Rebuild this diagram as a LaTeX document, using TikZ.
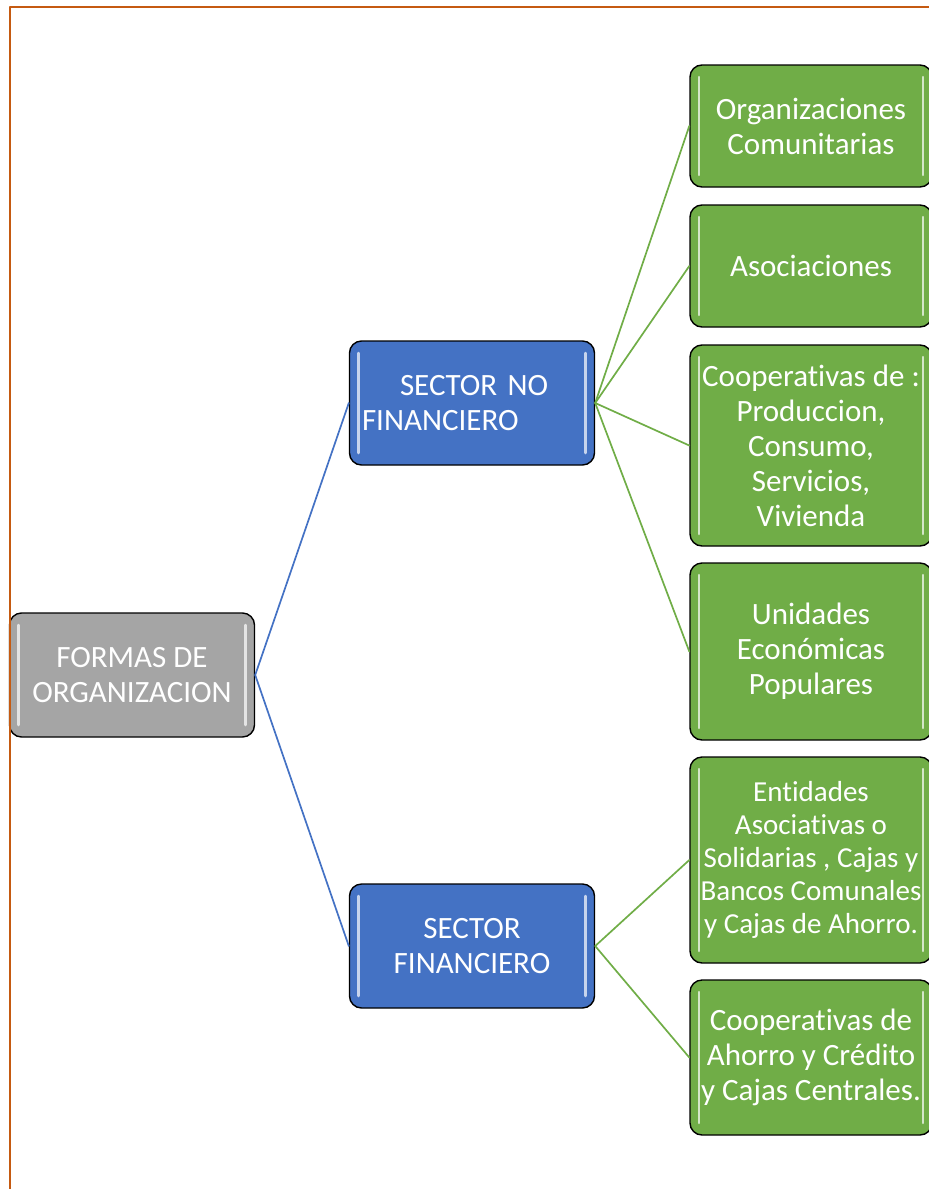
\documentclass[tikz,border=0pt]{standalone}
\usepackage{fontspec}
\setmainfont{Carlito}[Ligatures=NoCommon]
\definecolor{grisbox}{HTML}{A5A5A5}
\definecolor{azulbox}{HTML}{4472C4}
\definecolor{verdebox}{HTML}{70AD47}
\definecolor{naranja}{HTML}{C55A11}
\begin{document}
\begin{tikzpicture}[x=1pt,y=-1pt,line join=round,line cap=round]
	\tikzset{
		caja/.style={draw=black,line width=1.4pt,rounded corners=12pt,text=white,align=center,
			minimum width=245pt,minimum height=124pt,inner sep=0pt,
			font=\fontsize{31}{35}\selectfont,
			path picture={
				\draw[white,opacity=.7,line width=2.5pt]
				([xshift=9pt,yshift=-12pt]path picture bounding box.north west)--([xshift=9pt,yshift=12pt]path picture bounding box.south west);
				\draw[white,opacity=.7,line width=2.5pt]
				([xshift=-9pt,yshift=-12pt]path picture bounding box.north east)--([xshift=-9pt,yshift=12pt]path picture bounding box.south east);}},
		raiz/.style={caja,fill=grisbox},
		sector/.style={caja,fill=azulbox},
		tipo/.style={caja,fill=verdebox,minimum width=242pt},
		rama azul/.style={azulbox,line width=1.7pt},
		rama verde/.style={verdebox,line width=1.7pt}
	}
	\useasboundingbox (0,0) rectangle (929,1189);
	\clip (0,0) rectangle (929,1189);
	% nodos
	\node[raiz] (formas) at (132,675) {FORMAS DE\\ORGANIZACION};
	\node[sector,text width=220pt,align=left] (nofin) at (472,403) {\hspace*{38pt}SECTOR NO\\FINANCIERO};
	\node[sector] (fin) at (472,946) {SECTOR\\FINANCIERO};
	\node[tipo,minimum height=122pt] (orgcom) at (811,126) {Organizaciones\\Comunitarias};
	\node[tipo,minimum height=122pt] (asoc) at (811,266) {Asociaciones};
	\node[tipo,minimum height=201pt] (coop) at (811,445.5) {Cooperativas de :\\Produccion,\\Consumo,\\Servicios,\\Vivienda};
	\node[tipo,minimum height=177pt] (unid) at (811,651.5) {Unidades\\Económicas\\Populares};
	\node[tipo,minimum height=206pt,font=\fontsize{29}{33}\selectfont] (entid) at (811,860) {Entidades\\Asociativas o\\Solidarias , Cajas y\\Bancos Comunales\\y Cajas de Ahorro.};
	\node[tipo,minimum height=155pt] (ahorro) at (811,1057.5) {Cooperativas de\\Ahorro y Crédito\\y Cajas Centrales.};
	% ramas
	\foreach \s in {nofin,fin}
	\draw[rama azul] (formas.east)--(\s.west);
	\foreach \t in {orgcom,asoc,coop,unid}
	\draw[rama verde] (nofin.east)--(\t.west);
	\foreach \t in {entid,ahorro}
	\draw[rama verde] (fin.east)--(\t.west);
	% borde de pagina
	\draw[naranja,line width=2.5pt,line cap=butt] (10,1189)--(10,7)--(929,7);
\end{tikzpicture}
\end{document}
